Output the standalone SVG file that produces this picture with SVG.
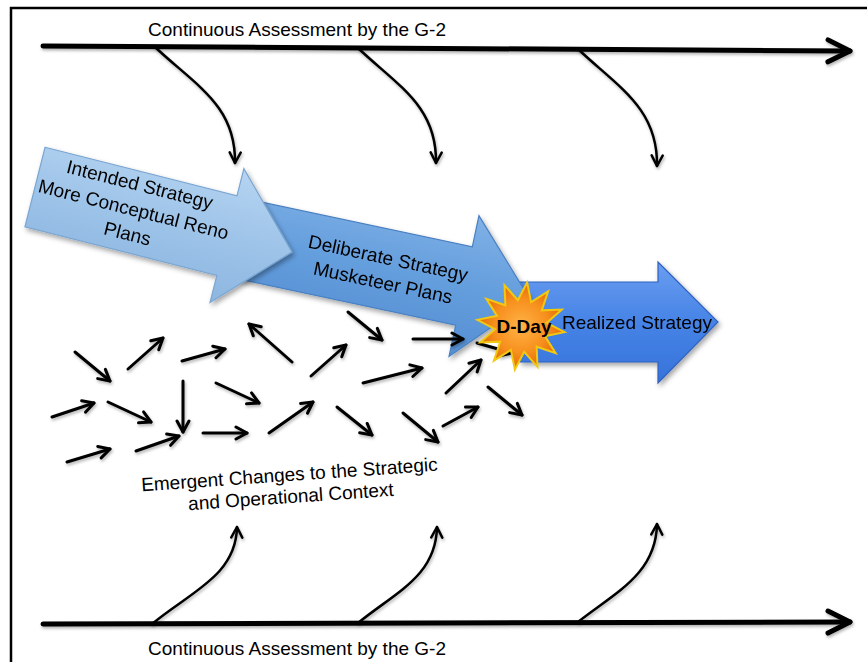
<svg xmlns="http://www.w3.org/2000/svg" width="867" height="662" viewBox="0 0 867 662">
  <defs>
    <style>
      .lbl { font-family: "Liberation Sans", Arial, sans-serif; font-size: 19px; fill: #000; }
      .bold { font-weight: bold; }
      .main { fill: none; stroke: #000; stroke-width: 5; stroke-linecap: round; }
      .feed { fill: none; stroke: #000; stroke-width: 2.5; stroke-linecap: round; }
      .drift { fill: none; stroke: #000; stroke-width: 3; stroke-linecap: round; }
    </style>
    <linearGradient id="gIntended" x1="0" y1="0" x2="0" y2="1">
      <stop offset="0" stop-color="#B6D4F1"/>
      <stop offset="0.5" stop-color="#9EC4E9"/>
      <stop offset="1" stop-color="#8DB6E0"/>
    </linearGradient>
    <linearGradient id="gDeliberate" x1="0" y1="0" x2="0" y2="1">
      <stop offset="0" stop-color="#80B1E6"/>
      <stop offset="0.5" stop-color="#649EDD"/>
      <stop offset="1" stop-color="#558FD3"/>
    </linearGradient>
    <linearGradient id="gRealized" x1="0" y1="0" x2="0" y2="1">
      <stop offset="0" stop-color="#6A9EF0"/>
      <stop offset="0.5" stop-color="#4683E6"/>
      <stop offset="1" stop-color="#3773DA"/>
    </linearGradient>
    <radialGradient id="gBurst" cx="0.5" cy="0.5" r="0.5">
      <stop offset="0" stop-color="#FFB347"/>
      <stop offset="0.6" stop-color="#F7901E"/>
      <stop offset="1" stop-color="#E26A06"/>
    </radialGradient>
    <filter id="shadow" filterUnits="userSpaceOnUse" x="0" y="0" width="867" height="662">
      <feDropShadow dx="2" dy="3" stdDeviation="2.5" flood-color="#000" flood-opacity="0.35"/>
    </filter>
    <filter id="lineShadow" filterUnits="userSpaceOnUse" x="0" y="0" width="867" height="662">
      <feDropShadow dx="1" dy="2" stdDeviation="1.5" flood-color="#000" flood-opacity="0.3"/>
    </filter>
    <marker id="headMain" markerUnits="userSpaceOnUse" viewBox="0 0 28 28" markerWidth="28" markerHeight="28" refX="25" refY="14" orient="auto">
      <path d="M3,3 L25,14 L3,25" fill="none" stroke="#000" stroke-width="5" stroke-linecap="round" stroke-linejoin="round"/>
    </marker>
    <marker id="headFeed" markerUnits="userSpaceOnUse" viewBox="0 0 14 14" markerWidth="14" markerHeight="14" refX="12" refY="7" orient="auto">
      <path d="M1.5,1.5 L12,7 L1.5,12.5" fill="none" stroke="#000" stroke-width="2.5" stroke-linecap="round" stroke-linejoin="round"/>
    </marker>
    <marker id="headDrift" markerUnits="userSpaceOnUse" viewBox="0 0 16 16" markerWidth="16" markerHeight="16" refX="13" refY="8" orient="auto">
      <path d="M2,2 L13,8 L2,14" fill="none" stroke="#000" stroke-width="3" stroke-linecap="round" stroke-linejoin="round"/>
    </marker>
  </defs>

  <rect width="867" height="662" fill="#fff"/>

  <!-- frame -->
  <path d="M11,680 L11,8 L880,8" fill="none" stroke="#000" stroke-width="2.5"/>

  <!-- assessment timelines -->
  <g id="timeline-top">
    <path class="main" d="M43,46 L850,51" marker-end="url(#headMain)" filter="url(#lineShadow)"/>
    <text class="lbl" x="297" y="36" text-anchor="middle" textLength="298">Continuous Assessment by the G-2</text>
  </g>
  <g id="timeline-bottom">
    <path class="main" d="M43,624 L850,622" marker-end="url(#headMain)" filter="url(#lineShadow)"/>
    <text class="lbl" x="297" y="655" text-anchor="middle" textLength="298">Continuous Assessment by the G-2</text>
  </g>

  <!-- strategy arrows, back to front -->
  <g id="realized" filter="url(#shadow)">
    <polygon points="520,282 658,282 658,262 718,322 658,383 658,362 520,362" fill="url(#gRealized)" stroke="#2F62C0" stroke-width="1.2"/>
    <text class="lbl" x="562" y="329" textLength="150">Realized Strategy</text>
  </g>
  <g id="deliberate" filter="url(#shadow)">
    <g transform="translate(464,286) rotate(12)">
      <polygon points="-240,-40 0,-40 0,-72 68,0 0,72 0,40 -240,40" fill="url(#gDeliberate)" stroke="#4A80C2" stroke-width="1.2"/>
      <text class="lbl" x="-80" y="-5" text-anchor="middle">Deliberate Strategy</text>
      <text class="lbl" x="-80" y="20" text-anchor="middle">Musketeer Plans</text>
    </g>
  </g>
  <g id="intended" filter="url(#shadow)">
    <g transform="translate(35,187) rotate(14.2)">
      <polygon points="0,-41 198,-41 198,-69 265,0 198,69 198,41 0,41" fill="url(#gIntended)" stroke="#7BA6D2" stroke-width="1.2"/>
      <text class="lbl" x="101" y="-21.5" text-anchor="middle">Intended Strategy</text>
      <text class="lbl" x="101" y="4" text-anchor="middle">More Conceptual Reno</text>
      <text class="lbl" x="101" y="29" text-anchor="middle">Plans</text>
    </g>
  </g>

  <g id="emergent-label" transform="translate(290,484) rotate(-4)">
    <text class="lbl" x="0" y="-3" text-anchor="middle" textLength="297">Emergent Changes to the Strategic</text>
    <text class="lbl" x="0" y="19" text-anchor="middle">and Operational Context</text>
  </g>

  <!-- connectors: feedback curves and emergent drift arrows -->
  <g id="connectors">
    <g filter="url(#lineShadow)">
      <path class="feed" d="M155,47 C195,85 236,105 235,163" marker-end="url(#headFeed)"/>
      <path class="feed" d="M358,48 C398,86 437,106 436,163" marker-end="url(#headFeed)"/>
      <path class="feed" d="M578,49 C618,87 658,108 657,166" marker-end="url(#headFeed)"/>
      <path class="feed" d="M152,624 C190,592 236,576 237,527" marker-end="url(#headFeed)"/>
      <path class="feed" d="M358,623 C396,592 436,576 437,527" marker-end="url(#headFeed)"/>
      <path class="feed" d="M578,622 C616,592 656,574 657,524" marker-end="url(#headFeed)"/>
    </g>
    <g filter="url(#lineShadow)">
      <path class="drift" d="M75,352 L110,381" marker-end="url(#headDrift)"/>
      <path class="drift" d="M128,369 L163,338" marker-end="url(#headDrift)"/>
      <path class="drift" d="M182,361 L225,349" marker-end="url(#headDrift)"/>
      <path class="drift" d="M292,362 L249,324" marker-end="url(#headDrift)"/>
      <path class="drift" d="M311,376 L346,345" marker-end="url(#headDrift)"/>
      <path class="drift" d="M52,417 L94,403" marker-end="url(#headDrift)"/>
      <path class="drift" d="M108,402 L151,422" marker-end="url(#headDrift)"/>
      <path class="drift" d="M183,381 L183,432" marker-end="url(#headDrift)"/>
      <path class="drift" d="M216,383 L259,403" marker-end="url(#headDrift)"/>
      <path class="drift" d="M67,462 L110,449" marker-end="url(#headDrift)"/>
      <path class="drift" d="M136,451 L179,436" marker-end="url(#headDrift)"/>
      <path class="drift" d="M203,433 L247,433" marker-end="url(#headDrift)"/>
      <path class="drift" d="M269,433 L313,402" marker-end="url(#headDrift)"/>
      <path class="drift" d="M348,312 L382,340" marker-end="url(#headDrift)"/>
      <path class="drift" d="M413,339 L463,339" marker-end="url(#headDrift)"/>
      <path class="drift" d="M477,343 L512,353" marker-end="url(#headDrift)"/>
      <path class="drift" d="M363,383 L422,368" marker-end="url(#headDrift)"/>
      <path class="drift" d="M446,393 L481,360" marker-end="url(#headDrift)"/>
      <path class="drift" d="M337,407 L372,435" marker-end="url(#headDrift)"/>
      <path class="drift" d="M403,413 L438,442" marker-end="url(#headDrift)"/>
      <path class="drift" d="M443,426 L478,407" marker-end="url(#headDrift)"/>
      <path class="drift" d="M488,387 L522,415" marker-end="url(#headDrift)"/>
    </g>
  </g>

  <!-- D-Day burst -->
  <g id="d-day">
    <polygon transform="translate(521,326) rotate(8)" fill="url(#gBurst)" stroke="#F2C810" stroke-width="2" stroke-linejoin="miter"
      points="44,0 25.1,6.73 38.11,22 18.38,18.38 22,38.11 6.73,25.1 0,44 -6.73,25.1 -22,38.11 -18.38,18.38 -38.11,22 -25.1,6.73 -44,0 -25.1,-6.73 -38.11,-22 -18.38,-18.38 -22,-38.11 -6.73,-25.1 0,-44 6.73,-25.1 22,-38.11 18.38,-18.38 38.11,-22 25.1,-6.73"/>
    <text class="lbl bold" x="524" y="333" text-anchor="middle">D-Day</text>
  </g>
</svg>
